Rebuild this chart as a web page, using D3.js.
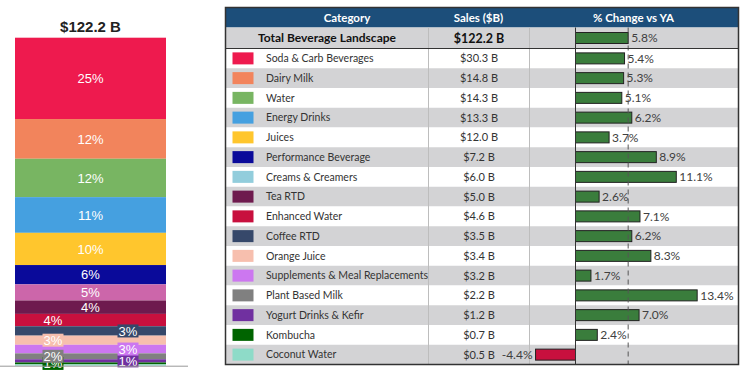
<!DOCTYPE html>
<html>
<head>
<meta charset="utf-8">
<script src="https://cdn.jsdelivr.net/npm/d3@7"></script>
<style>
  body { margin: 0; background: #fff; }
  svg { display: block; }
</style>
</head>
<body>
<div id="chart"></div>
<script>
// chart data
var categories = [
  "Soda & Carb Beverages", "Dairy Milk", "Water", "Energy Drinks", "Juices",
  "Performance Beverage", "Creams & Creamers", "Tea RTD", "Enhanced Water",
  "Coffee RTD", "Orange Juice", "Supplements & Meal Replacements",
  "Plant Based Milk", "Yogurt Drinks & Kefir", "Kombucha", "Coconut Water"
];
var sales = [30.3, 14.8, 14.3, 13.3, 12.0, 7.2, 6.0, 5.0, 4.6, 3.5, 3.4, 3.2, 2.2, 1.2, 0.7, 0.5];
var pctChange = [5.4, 5.3, 5.1, 6.2, 3.7, 8.9, 11.1, 2.6, 7.1, 6.2, 8.3, 1.7, 13.4, 7.0, 2.4, -4.4];
var totalLabel = "Total Beverage Landscape";
var totalSales = 122.2;
var totalChange = 5.8;

// swatch colours in the table, and the colours in the stacked bar
var swatchColors = ["#EE1A4E", "#F2845C", "#78B562", "#45A0E0", "#FFC62D", "#0A0A9A",
  "#92CDDC", "#6E1A4E", "#C8103E", "#36486A", "#F7BFAE", "#CC77F0",
  "#808080", "#7030A0", "#006400", "#8EDBC8"];
var barColors = swatchColors.slice();
barColors[6] = "#CC66AA";

var svgWidth = 749;
var svgHeight = 375;

var svg = d3.select("#chart")
  .append("svg")
  .attr("width", svgWidth)
  .attr("height", svgHeight);

// ---------- stacked bar on the left ----------
var stackTop = 37.7;
var stackBottom = 365.7;
var stackLeft = 15;
var stackRight = 166;

var yStack = d3.scaleLinear()
  .domain([0, d3.sum(sales)])
  .range([stackBottom, stackTop]);

// cumulative value above each segment (top-down order)
var above = [];
var running = 0;
sales.forEach(function(v) { above.push(running); running += v; });
var stackTotal = running;

var segs = sales.map(function(v, i) {
  return {
    name: categories[i],
    value: v,
    y0: yStack(stackTotal - above[i]),
    y1: yStack(stackTotal - above[i] - v),
    color: barColors[i],
    pct: Math.round(v / totalSales * 100)
  };
});

var stackGroup = svg.append("g");

stackGroup.selectAll("rect")
  .data(segs)
  .enter()
  .append("rect")
  .attr("x", stackLeft)
  .attr("width", stackRight - stackLeft)
  .attr("y", d => d.y0)
  .attr("height", d => d.y1 - d.y0)
  .attr("fill", d => d.color);

// baseline
svg.append("line")
  .attr("x1", 0).attr("x2", 188)
  .attr("y1", stackBottom + 0.5).attr("y2", stackBottom + 0.5)
  .attr("stroke", "#999").attr("stroke-width", 1);

// title
svg.append("text")
  .attr("x", (stackLeft + stackRight) / 2)
  .attr("y", 32)
  .attr("text-anchor", "middle")
  .attr("font-family", "Liberation Sans, Arial, sans-serif")
  .attr("font-weight", "bold")
  .attr("font-size", 15)
  .attr("fill", "#222")
  .text("$" + totalSales.toFixed(1) + " B");

// segment labels: big ones centred, small ones alternate left / right
var side = 0;
var labels = [];
segs.forEach(function(d) {
  if (d.pct < 1) return;
  var h = d.y1 - d.y0;
  var lab = { text: d.pct + "%", color: d.color, cy: (d.y0 + d.y1) / 2,
              cx: (stackLeft + stackRight) / 2, boxed: false };
  if (h < 13) {
    lab.cx = side % 2 === 0 ? 53 : 128;
    side++;
    lab.boxed = h < 11;
  }
  labels.push(lab);
});

// draw bottom labels first so the upper ones sit on top
labels.reverse().forEach(function(lab) {
  if (lab.boxed) {
    stackGroup.append("rect")
      .attr("x", lab.cx - 10.5).attr("y", lab.cy - 6.5)
      .attr("width", 21).attr("height", 13)
      .attr("fill", lab.color);
  }
  stackGroup.append("text")
    .attr("x", lab.cx)
    .attr("y", lab.cy)
    .attr("dy", "0.36em")
    .attr("text-anchor", "middle")
    .attr("font-family", "Liberation Sans, Arial, sans-serif")
    .attr("font-size", 13)
    .attr("fill", "#fff")
    .text(lab.text);
});

// ---------- table on the right ----------
var tLeft = 225.5;
var tRight = 738.5;
var headTop = 7.5;
var headBottom = 27.5;
var totalBottom = 48.5;
var tBottom = 364.5;
var col1 = 428.5;
var col2 = 529.5;

var font = "Lato, 'Open Sans', sans-serif";

var yRow = d3.scaleBand()
  .domain(categories)
  .range([totalBottom, tBottom]);

var xPct = d3.scaleLinear()
  .domain([-5, 15])
  .range([575.5 - 45.4, 575.5 + 136.2]);

var table = svg.append("g");

// header
table.append("rect")
  .attr("x", tLeft).attr("y", headTop)
  .attr("width", tRight - tLeft).attr("height", headBottom - headTop)
  .attr("fill", "#1C4E7A");

var headers = [
  { text: "Category", x: 347 },
  { text: "Sales ($B)", x: 478.5 },
  { text: "% Change vs YA", x: 633.5 }
];
table.selectAll(".head")
  .data(headers)
  .enter()
  .append("text")
  .attr("class", "head")
  .attr("x", d => d.x)
  .attr("y", (headTop + headBottom) / 2)
  .attr("dy", "0.35em")
  .attr("text-anchor", "middle")
  .attr("font-family", font)
  .attr("font-weight", "bold")
  .attr("font-size", 11.5)
  .attr("fill", "#fff")
  .text(d => d.text);

// total row
table.append("rect")
  .attr("x", tLeft).attr("y", headBottom)
  .attr("width", tRight - tLeft).attr("height", totalBottom - headBottom)
  .attr("fill", "#D3D3D5");

table.append("text")
  .attr("x", (tLeft + col1) / 2)
  .attr("y", (headBottom + totalBottom) / 2)
  .attr("dy", "0.36em")
  .attr("text-anchor", "middle")
  .attr("font-family", font)
  .attr("font-weight", "bold")
  .attr("font-size", 12)
  .attr("fill", "#111")
  .text(totalLabel);

table.append("text")
  .attr("x", (col1 + col2) / 2)
  .attr("y", (headBottom + totalBottom) / 2)
  .attr("dy", "0.36em")
  .attr("text-anchor", "middle")
  .attr("font-family", font)
  .attr("font-weight", "bold")
  .attr("font-size", 12.5)
  .attr("fill", "#111")
  .text("$" + totalSales.toFixed(1) + " B");

// category rows
var rows = table.selectAll(".row")
  .data(categories)
  .enter()
  .append("g")
  .attr("class", "row")
  .attr("transform", d => `translate(0, ${yRow(d)})`);

rows.append("rect")
  .attr("x", tLeft)
  .attr("width", tRight - tLeft)
  .attr("height", yRow.bandwidth())
  .attr("fill", (d, i) => i % 2 === 0 ? "#fff" : "#D3D3D5");

rows.append("rect")
  .attr("x", 232.5)
  .attr("y", (yRow.bandwidth() - 12) / 2)
  .attr("width", 21)
  .attr("height", 12)
  .attr("fill", (d, i) => swatchColors[i]);

rows.append("text")
  .attr("x", 266)
  .attr("y", yRow.bandwidth() / 2)
  .attr("dy", "0.36em")
  .attr("font-family", font)
  .attr("font-size", 10.5)
  .attr("fill", "#333")
  .text(d => d);

rows.append("text")
  .attr("x", (col1 + col2) / 2)
  .attr("y", yRow.bandwidth() / 2)
  .attr("dy", "0.36em")
  .attr("text-anchor", "middle")
  .attr("font-family", font)
  .attr("font-size", 11)
  .attr("fill", "#333")
  .text((d, i) => "$" + sales[i].toFixed(1) + " B");

// column dividers
[col1, col2].forEach(function(x) {
  table.append("line")
    .attr("x1", x).attr("x2", x)
    .attr("y1", headBottom).attr("y2", tBottom)
    .attr("stroke", "#BDBDBD").attr("stroke-width", 1);
});

// % change bars
var barH = 11;
var allPct = [totalChange].concat(pctChange);
var allY = [(headBottom + totalBottom) / 2].concat(categories.map(c => yRow(c) + yRow.bandwidth() / 2));

var bars = table.append("g");

bars.selectAll("rect")
  .data(allPct)
  .enter()
  .append("rect")
  .attr("x", d => xPct(Math.min(0, d)))
  .attr("y", (d, i) => allY[i] - barH / 2)
  .attr("width", d => Math.abs(xPct(d) - xPct(0)))
  .attr("height", barH)
  .attr("fill", d => d < 0 ? "#C8103E" : "#3A7D3C")
  .attr("stroke", "#222")
  .attr("stroke-width", 1);

bars.selectAll("text")
  .data(allPct)
  .enter()
  .append("text")
  .attr("x", d => d < 0 ? xPct(d) - 3 : xPct(d) + 3)
  .attr("y", (d, i) => allY[i])
  .attr("dy", "0.36em")
  .attr("text-anchor", d => d < 0 ? "end" : "start")
  .attr("font-family", font)
  .attr("font-size", 12)
  .attr("fill", "#404040")
  .text(d => d.toFixed(1) + "%");

// zero line and reference dashed line
table.append("line")
  .attr("x1", xPct(0)).attr("x2", xPct(0))
  .attr("y1", headBottom).attr("y2", tBottom)
  .attr("stroke", "#333").attr("stroke-width", 1);

table.append("line")
  .attr("x1", xPct(totalChange)).attr("x2", xPct(totalChange))
  .attr("y1", headBottom).attr("y2", tBottom)
  .attr("stroke", "#555").attr("stroke-width", 1)
  .attr("stroke-dasharray", "5,4");

// line under total row and outer border
table.append("line")
  .attr("x1", tLeft).attr("x2", tRight)
  .attr("y1", totalBottom).attr("y2", totalBottom)
  .attr("stroke", "#333").attr("stroke-width", 1);

table.append("rect")
  .attr("x", tLeft).attr("y", headTop)
  .attr("width", tRight - tLeft).attr("height", tBottom - headTop)
  .attr("fill", "none")
  .attr("stroke", "#333").attr("stroke-width", 1.5);
</script>
</body>
</html>
